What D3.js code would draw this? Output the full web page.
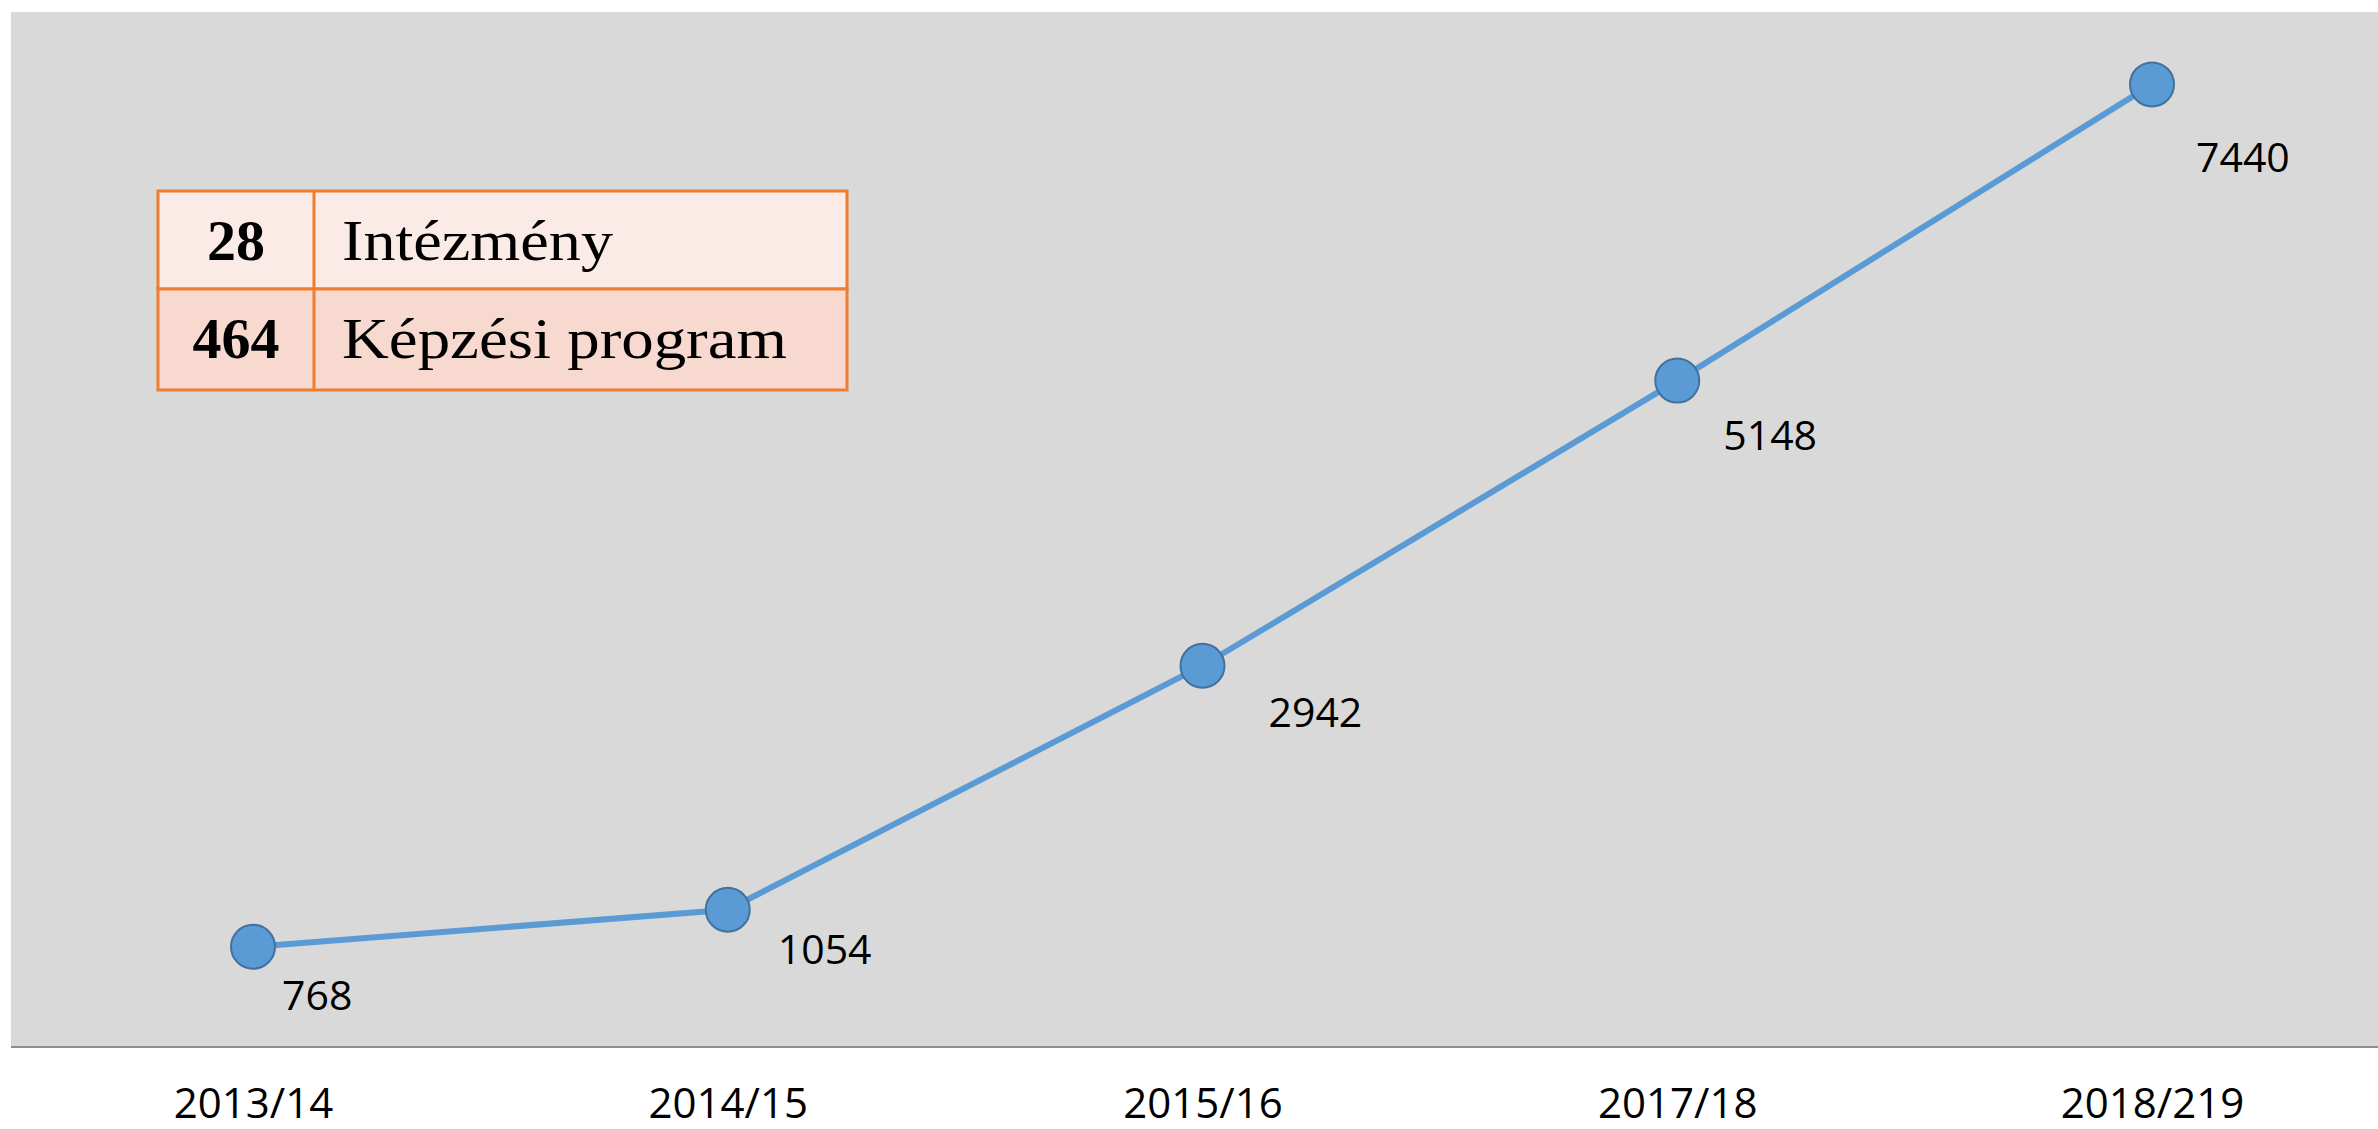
<!DOCTYPE html>
<html>
<head>
<meta charset="utf-8">
<script src="https://cdn.jsdelivr.net/npm/d3@7"></script>
<style>
  body { margin: 0; background: #fff; }
  text { font-family: "Open Sans", sans-serif; }
</style>
</head>
<body>
<div id="visual"></div>
<script>
// chart data
const years = ["2013/14", "2014/15", "2015/16", "2017/18", "2018/219"];
const students = [768, 1054, 2942, 5148, 7440];

// inset table
const tableNumbers = ["28", "464"];
const tableLabels = ["Intézmény", "Képzési program"];
const tableLabelWidths = [271, 445];

// manual label nudges (Excel placed these by hand)
const labelOffsets = [[29, 63], [50, 54], [66, 61], [46, 69], [44, 88]];

const width = 2378, height = 1129;
const plot = { left: 11, top: 12, right: 2378, bottom: 1047 };

const svg = d3.select("#visual")
    .append("svg")
    .attr("width", width)
    .attr("height", height);

// grey plot background
svg.append("rect")
    .attr("x", plot.left)
    .attr("y", plot.top)
    .attr("width", plot.right - plot.left)
    .attr("height", plot.bottom - plot.top)
    .attr("fill", "#d9d9d9");

// scales
const x = d3.scalePoint()
    .domain(years)
    .range([253, 2152]);

const y = d3.scaleLinear()
    .domain([0, 8000])
    .range([1046, plot.top]);

// baseline
svg.append("line")
    .attr("x1", plot.left)
    .attr("x2", plot.right)
    .attr("y1", plot.bottom)
    .attr("y2", plot.bottom)
    .attr("stroke", "#8f8f8f")
    .attr("stroke-width", 2);

// x axis labels
const xAxis = svg.append("g")
    .attr("transform", "translate(0," + plot.bottom + ")")
    .call(d3.axisBottom(x).tickSize(0).tickPadding(41));
xAxis.select(".domain").remove();
xAxis.selectAll("text")
    .attr("fill", "#000")
    .style("font-family", "'Open Sans', sans-serif")
    .style("font-size", "42px");

const data = years.map((d, i) => ({ year: d, value: students[i], off: labelOffsets[i] }));

// line
const line = d3.line()
    .x(d => x(d.year))
    .y(d => y(d.value));

svg.append("path")
    .datum(data)
    .attr("fill", "none")
    .attr("stroke", "#5b9bd5")
    .attr("stroke-width", 6)
    .attr("d", line);

// markers
svg.selectAll(".dot")
    .data(data)
    .enter().append("circle")
    .attr("class", "dot")
    .attr("cx", d => x(d.year))
    .attr("cy", d => y(d.value))
    .attr("r", 22)
    .attr("fill", "#5b9bd5")
    .attr("stroke", "#41719c")
    .attr("stroke-width", 2);

// value labels
svg.selectAll(".val")
    .data(data)
    .enter().append("text")
    .attr("class", "val")
    .attr("x", d => x(d.year) + d.off[0])
    .attr("y", d => y(d.value) + d.off[1])
    .style("font-size", "41px")
    .attr("fill", "#000")
    .text(d => d.value);

// inset table
const tbl = { x: 158, y: 191, col: 156, w: 689, rows: [98, 101] };
const rowFill = ["#fbebe6", "#f8d9cf"];
const tg = svg.append("g");

let ry = tbl.y;
tableNumbers.forEach((num, i) => {
    const h = tbl.rows[i];
    tg.append("rect")
        .attr("x", tbl.x)
        .attr("y", ry)
        .attr("width", tbl.w)
        .attr("height", h)
        .attr("fill", rowFill[i])
        .attr("stroke", "#ed7d31")
        .attr("stroke-width", 3);

    const base = ry + 69;
    tg.append("text")
        .attr("x", tbl.x + tbl.col / 2)
        .attr("y", base)
        .attr("text-anchor", "middle")
        .style("font-family", "'Liberation Serif', serif")
        .style("font-weight", "bold")
        .style("font-size", "58px")
        .text(num);

    tg.append("text")
        .attr("x", tbl.x + tbl.col + 28)
        .attr("y", base)
        .attr("textLength", tableLabelWidths[i])
        .attr("lengthAdjust", "spacingAndGlyphs")
        .style("font-family", "'Liberation Serif', serif")
        .style("font-size", "58px")
        .text(tableLabels[i]);

    ry += h;
});

// column divider
tg.append("line")
    .attr("x1", tbl.x + tbl.col)
    .attr("x2", tbl.x + tbl.col)
    .attr("y1", tbl.y)
    .attr("y2", ry)
    .attr("stroke", "#ed7d31")
    .attr("stroke-width", 3);
</script>
</body>
</html>
